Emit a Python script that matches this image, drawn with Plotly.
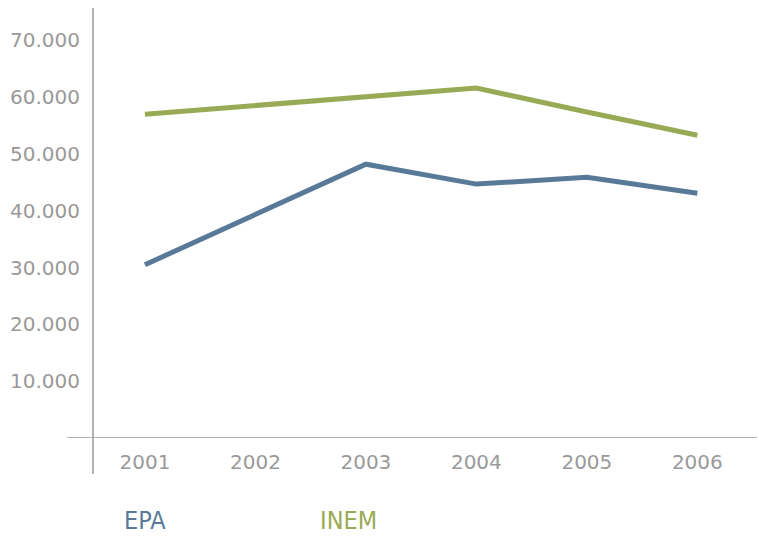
import plotly.graph_objects as go

years = ["2001", "2002", "2003", "2004", "2005", "2006"]
epa = [30500, 39400, 48200, 44700, 45900, 43100]
inem = [57000, 58500, 60000, 61600, 57400, 53300]
tick_vals = [10000, 20000, 30000, 40000, 50000, 60000, 70000]
tick_text = ["10.000", "20.000", "30.000", "40.000", "50.000", "60.000", "70.000"]

color_epa = "#587a98"
color_inem = "#98aa55"
grey = "#999999"

fig = go.Figure()
fig.add_trace(go.Scatter(x=years, y=epa, mode="lines", name="EPA",
                         line=dict(color=color_epa, width=5)))
fig.add_trace(go.Scatter(x=years, y=inem, mode="lines", name="INEM",
                         line=dict(color=color_inem, width=5)))

legend_font = "Liberation Sans Narrow, DejaVu Sans Condensed"

fig.update_layout(
    width=759,
    height=536,
    margin=dict(l=93, r=2, t=8, b=98),
    plot_bgcolor="white",
    paper_bgcolor="white",
    showlegend=False,
    font=dict(family="DejaVu Sans", color=grey),
    xaxis=dict(
        type="category",
        range=[-0.47, 5.54],
        showgrid=False,
        zeroline=False,
        showline=False,
        ticks="outside",
        ticklen=6,
        tickcolor="rgba(0,0,0,0)",
        tickfont=dict(size=20, color=grey),
    ),
    yaxis=dict(
        range=[0, 75700],
        tickvals=tick_vals,
        ticktext=tick_text,
        showgrid=False,
        zeroline=False,
        showline=False,
        ticks="outside",
        ticklen=8,
        tickcolor="rgba(0,0,0,0)",
        tickfont=dict(size=20, color=grey),
    ),
    shapes=[
        dict(type="line", xref="paper", yref="paper", x0=0, x1=0,
             y0=-0.084, y1=1, line=dict(color=grey, width=1.5)),
        dict(type="line", xref="paper", yref="y", x0=-0.039, x1=1,
             y0=0, y1=0, line=dict(color=grey, width=1.5)),
    ],
    annotations=[
        dict(text="EPA", xref="paper", yref="paper", x=0.044, y=-0.193,
             xanchor="left", yanchor="middle", showarrow=False,
             font=dict(family=legend_font, size=25, color=color_epa)),
        dict(text="INEM", xref="paper", yref="paper", x=0.339, y=-0.193,
             xanchor="left", yanchor="middle", showarrow=False,
             font=dict(family=legend_font, size=25, color=color_inem)),
    ],
)

fig.write_html("out.html", config={"displayModeBar": False},
               post_script="document.body.style.margin='0';")
